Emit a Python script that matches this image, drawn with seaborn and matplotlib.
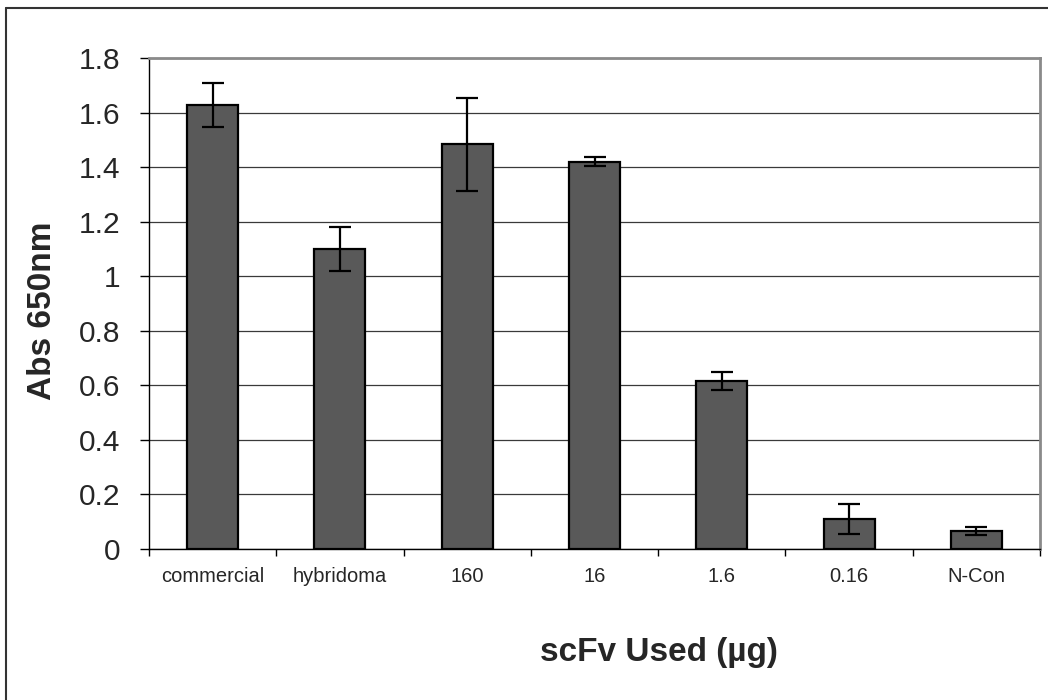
import matplotlib
matplotlib.use("Agg")
import matplotlib.pyplot as plt
from matplotlib.lines import Line2D
import seaborn as sns
import pandas as pd
import numpy as np

categories = ["commercial", "hybridoma", "160", "16", "1.6", "0.16", "N-Con"]
values = [1.628, 1.099, 1.483, 1.420, 0.616, 0.109, 0.065]
errors = [0.080, 0.080, 0.170, 0.016, 0.033, 0.055, 0.014]
y_ticks = [0, 0.2, 0.4, 0.6, 0.8, 1, 1.2, 1.4, 1.6, 1.8]
y_tick_labels = ["0", "0.2", "0.4", "0.6", "0.8", "1", "1.2", "1.4", "1.6", "1.8"]

sns.set_theme(style="white")
plt.rcParams["font.family"] = ["Liberation Sans", "DejaVu Sans"]

W, H = 1048, 700
fig = plt.figure(figsize=(W / 100, H / 100), dpi=100)
ax = fig.add_axes([149 / W, 1 - 549 / H, (1040 - 149) / W, (549 - 58) / H])

df = pd.DataFrame({"cat": categories, "val": values})
sns.barplot(data=df, x="cat", y="val", order=categories, color="#595959",
            saturation=1, width=0.4, edgecolor="black", linewidth=1.6,
            errorbar=None, ax=ax, zorder=3)
ax.errorbar(np.arange(len(categories)), values, yerr=errors, fmt="none",
            ecolor="black", elinewidth=1.6, capsize=8, capthick=1.6, zorder=4)

ax.set_xlim(-0.5, len(categories) - 0.5)
ax.set_ylim(0, 1.8)
ax.set_yticks(y_ticks)
ax.set_yticklabels(y_tick_labels, fontsize=21.5)
ax.set_xticks(np.arange(len(categories)))
ax.set_xticklabels(categories, fontsize=14.5)
ax.set_xticks(np.arange(len(categories) + 1) - 0.5, minor=True)
ax.tick_params(axis="x", which="major", length=0, pad=13)
ax.tick_params(axis="x", which="minor", length=5, width=1, color="black",
               direction="out", bottom=True)
ax.tick_params(axis="y", which="major", length=6.5, width=1, color="black",
               direction="out", left=True, pad=14)

ax.yaxis.grid(True, color="#3a3a3a", linewidth=0.9, zorder=0)
ax.xaxis.grid(False)
ax.set_axisbelow(True)

for s in ["left", "bottom"]:
    ax.spines[s].set_color("black")
    ax.spines[s].set_linewidth(1.0)
for s in ["top", "right"]:
    ax.spines[s].set_color("#8a8a8a")
    ax.spines[s].set_linewidth(2.0)

ax.set_xlabel("scFv Used (µg)", fontsize=24, fontweight="bold")
ax.set_ylabel("Abs 650nm", fontsize=24, fontweight="bold")
ax.xaxis.label.set_va("center")
ax.yaxis.label.set_va("center")
ax.xaxis.set_label_coords((659 - 149) / (1040 - 149), (549 - 652) / (549 - 58))
ax.yaxis.set_label_coords((43 - 149) / (1040 - 149), (549 - 311) / (549 - 58))

# outer chart-area border (left and top visible)
fig.add_artist(Line2D([6 / W, 6 / W], [0, 1 - 8 / H], transform=fig.transFigure,
                      color="#333333", linewidth=1.5))
fig.add_artist(Line2D([6 / W, 1], [1 - 8 / H, 1 - 8 / H], transform=fig.transFigure,
                      color="#333333", linewidth=1.5))

fig.savefig("out.png", dpi=100)
